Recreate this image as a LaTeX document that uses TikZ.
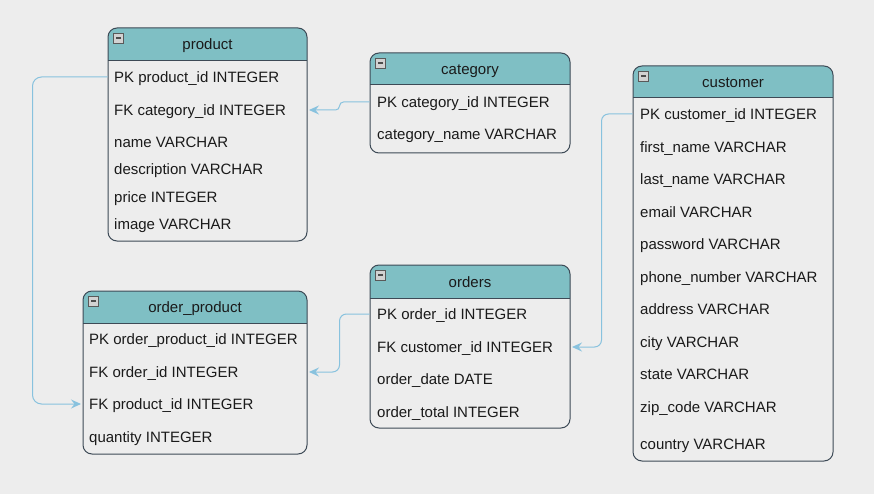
\documentclass[tikz,border=0pt]{standalone}
\usepackage{fontspec}
\setmainfont{Liberation Sans}
\usetikzlibrary{arrows.meta,fit}
\definecolor{bgc}{HTML}{EDEDED}
\definecolor{hdrc}{HTML}{7FBFC4}
\definecolor{brdc}{HTML}{3D4A56}
\definecolor{txtc}{HTML}{1A1A1A}
\definecolor{conc}{HTML}{88C2DE}
\tikzset{
  frame/.style={draw=brdc, line width=1pt, rounded corners=9pt, inner sep=0pt},
  titletext/.style={font=\fontsize{15}{18}\selectfont, text=txtc, anchor=base, inner sep=0pt},
  rowtext/.style={font=\fontsize{15}{18}\selectfont, text=txtc, anchor=base west, inner sep=0pt},
  minusbox/.style={draw=gray!70!black, fill=gray!35, line width=0.6pt, minimum width=10pt, minimum height=10pt, inner sep=0pt},
  conn/.style={draw=conc, line width=1pt, rounded corners=7pt, -{Stealth[length=10pt,width=9pt,inset=3.5pt]}, shorten >=1.5pt},
}
% name, x1, y1, x2, y2, header bottom, title
\newcommand\erdtable[7]{%
  \begin{scope}
    \clip (#2,#3) rectangle (#4,#6);
    \fill[hdrc, rounded corners=9pt] (#2,#3) rectangle (#4,#5);
  \end{scope}
  \draw[brdc, line width=1pt] (#2,#6) -- (#4,#6);
  \node[frame, fit={(#2,#3) (#4,#5)}] (#1) {};
  \node[titletext] (#1-title) at ({(#2+#4)/2},{(#3+#6)/2+5.5}) {#7};
  \node[minusbox] (#1-min) at ({#2+10.5},{#3+10}) {};
  \draw[black!70, line width=1.3pt] ([xshift=2.5pt]#1-min.center) -- ([xshift=-2.5pt]#1-min.center);
}
\newcommand\erdrow[4]{\node[rowtext] (#1) at (#2,{#3+5.3}) {#4};}
\begin{document}
\begin{tikzpicture}[x=1pt,y=-1pt]
\fill[bgc] (0,0) rectangle (874,494);
\useasboundingbox (0,0) rectangle (874,494);

% product
\erdtable{product}{108}{28}{307}{241}{61}{product}
\erdrow{p1}{114}{77}{PK product\_id INTEGER}
\erdrow{p2}{114}{110}{FK category\_id INTEGER}
\erdrow{p3}{114}{142}{name VARCHAR}
\erdrow{p4}{114}{169}{description VARCHAR}
\erdrow{p5}{114}{197}{price INTEGER}
\erdrow{p6}{114}{224}{image VARCHAR}

% category
\erdtable{category}{370}{53}{570}{153}{85}{category}
\erdrow{c1}{377}{102}{PK category\_id INTEGER}
\erdrow{c2}{377}{134}{category\_name VARCHAR}

% customer
\erdtable{customer}{633}{66}{833}{461}{98}{customer}
\erdrow{cu1}{640}{114}{PK customer\_id INTEGER}
\erdrow{cu2}{640}{147}{first\_name VARCHAR}
\erdrow{cu3}{640}{179}{last\_name VARCHAR}
\erdrow{cu4}{640}{212}{email VARCHAR}
\erdrow{cu5}{640}{244}{password VARCHAR}
\erdrow{cu6}{640}{277}{phone\_number VARCHAR}
\erdrow{cu7}{640}{309}{address VARCHAR}
\erdrow{cu8}{640}{342}{city VARCHAR}
\erdrow{cu9}{640}{374}{state VARCHAR}
\erdrow{cu10}{640}{407}{zip\_code VARCHAR}
\erdrow{cu11}{640}{444}{country VARCHAR}

% order_product
\erdtable{op}{83}{291}{307}{454}{323}{order\_product}
\erdrow{op1}{89}{339}{PK order\_product\_id INTEGER}
\erdrow{op2}{89}{372}{FK order\_id INTEGER}
\erdrow{op3}{89}{404}{FK product\_id INTEGER}
\erdrow{op4}{89}{437}{quantity INTEGER}

% orders
\erdtable{orders}{370}{265}{570}{428}{298}{orders}
\erdrow{o1}{377}{314}{PK order\_id INTEGER}
\erdrow{o2}{377}{347}{FK customer\_id INTEGER}
\erdrow{o3}{377}{379}{order\_date DATE}
\erdrow{o4}{377}{412}{order\_total INTEGER}

% connector endpoints (row centre lines)
\coordinate (pc1) at (0,102); \coordinate (pp2) at (0,110);
\coordinate (pp1) at (0,77);  \coordinate (pop3) at (0,404);
\coordinate (po1) at (0,314); \coordinate (pop2) at (0,372);
\coordinate (pcu1) at (0,114); \coordinate (po2) at (0,347);

% connectors
\draw[conn, rounded corners=4pt] (category.west |- pc1) -- ++(-30,0) |- (product.east |- pp2);
\draw[conn, rounded corners=9pt] (product.west |- pp1) -- ++(-75,0) |- (op.west |- pop3);
\draw[conn] (orders.west |- po1) -- ++(-30,0) |- (op.east |- pop2);
\draw[conn] (customer.west |- pcu1) -- ++(-31,0) |- (orders.east |- po2);
\end{tikzpicture}
\end{document}
